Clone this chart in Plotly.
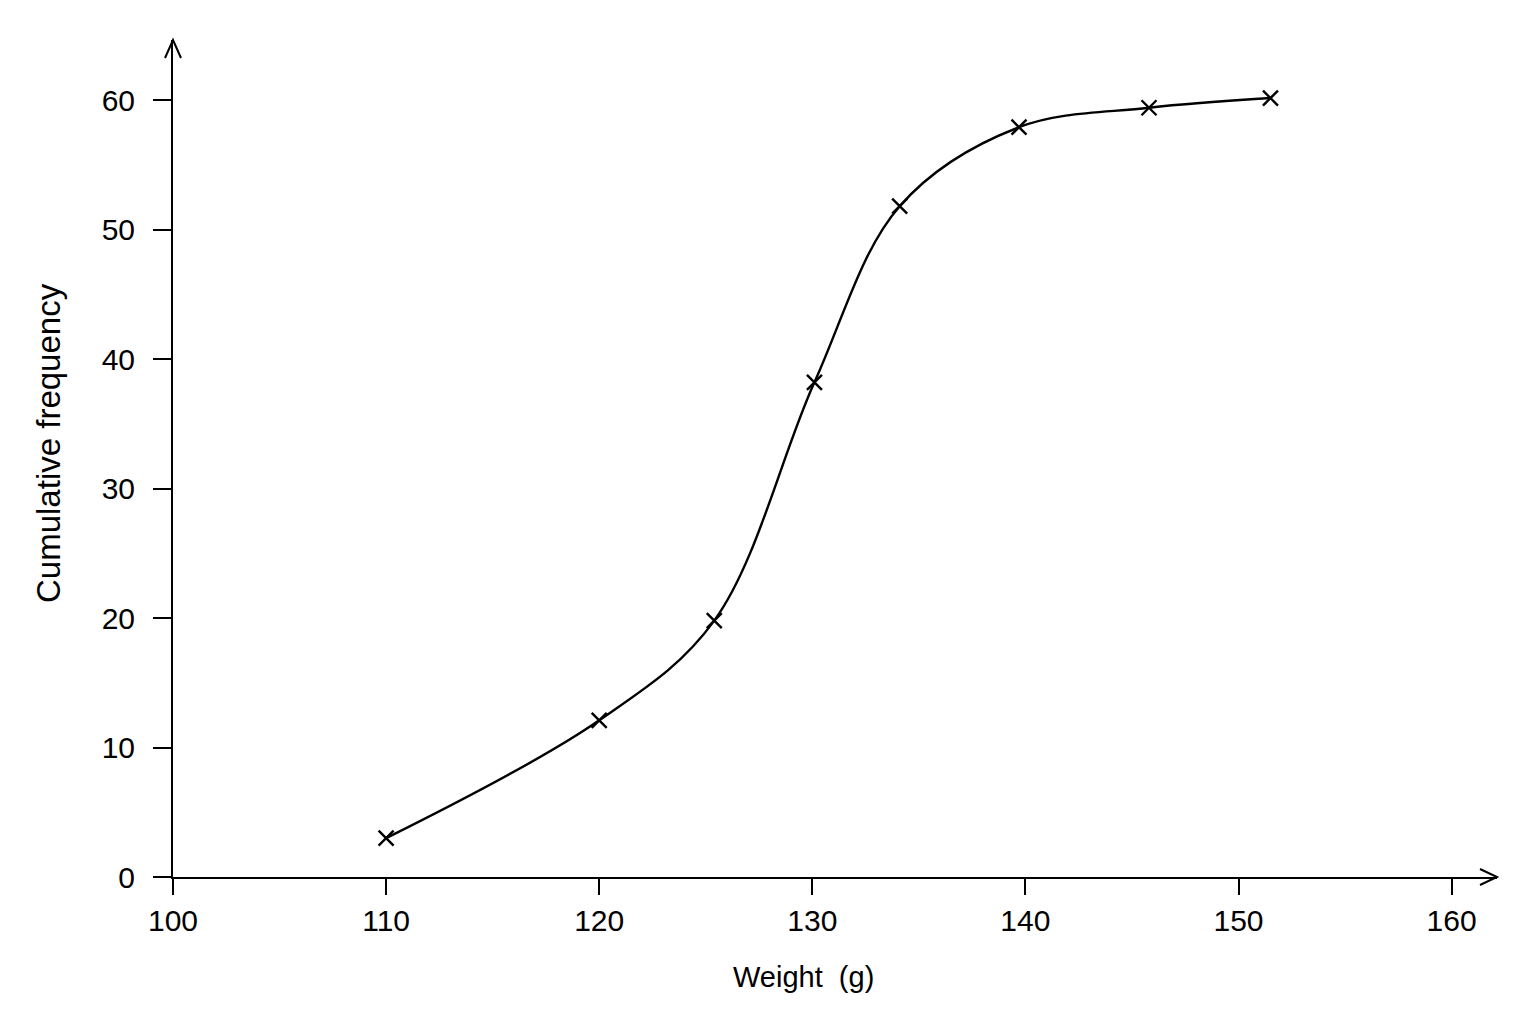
import plotly.graph_objects as go

# cumulative frequency data
weight = [110, 120, 125.4, 130.1, 134.1, 139.7, 145.8, 151.5]
cum_freq = [3.0, 12.1, 19.8, 38.2, 51.8, 57.9, 59.4, 60.15]

x_ticks = [100, 110, 120, 130, 140, 150, 160]
y_ticks = [0, 10, 20, 30, 40, 50, 60]

# page body has an 8px margin, so the figure is drawn 8px in from the corner
OFF = 8
W, H = 1536 - 2 * OFF, 1024 - 2 * OFF
L, T = 173 - OFF, 40 - OFF
R, B = W - (1497 - OFF), H - (877 - OFF)
pw, ph = W - L - R, H - T - B

fig = go.Figure()
fig.add_trace(go.Scatter(
    x=weight,
    y=cum_freq,
    mode='lines+markers',
    line=dict(color='black', width=2.4, shape='spline', smoothing=1.0),
    marker=dict(symbol='x-thin', size=15, line=dict(color='black', width=2.4)),
    showlegend=False,
    hoverinfo='x+y'
))

family = 'Liberation Sans, Arial, sans-serif'
tick_font = dict(family=family, size=30, color='black')

fig.update_xaxes(
    range=[100, 100 + pw / 21.31],
    tickvals=x_ticks,
    showline=True, linecolor='black', linewidth=2,
    ticks='outside', ticklen=16, tickwidth=2, tickcolor='black',
    showgrid=False, zeroline=False,
    tickfont=tick_font, ticklabelstandoff=0
)
fig.update_yaxes(
    range=[0, ph / 12.95],
    tickvals=y_ticks,
    showline=True, linecolor='black', linewidth=2,
    ticks='outside', ticklen=18, tickwidth=2, tickcolor='black',
    showgrid=False, zeroline=False,
    tickfont=tick_font, ticklabelstandoff=12
)

# open chevron arrow heads at the axis ends
ax, ay = 8 / pw, 18 / ph
bx, by = 17 / pw, 8 / ph
fig.add_shape(type='path', xref='paper', yref='paper',
              path=f'M {-ax},{1 - ay} L 0,1 L {ax},{1 - ay}',
              line=dict(color='black', width=2))
fig.add_shape(type='path', xref='paper', yref='paper',
              path=f'M {1 - bx},{by} L 1,0 L {1 - bx},{-by}',
              line=dict(color='black', width=2))

fig.add_annotation(text='Weight  (g)', xref='paper', yref='paper',
                   x=(803 - 173) / pw, y=(877 - 977) / ph,
                   showarrow=False, font=dict(family=family, size=29, color='black'),
                   xanchor='center', yanchor='middle')
fig.add_annotation(text='Cumulative frequency', xref='paper', yref='paper',
                   x=(48 - 173) / pw, y=(877 - 443) / ph, textangle=-90,
                   showarrow=False, font=dict(family=family, size=33, color='black'),
                   xanchor='center', yanchor='middle')

fig.update_layout(
    width=W, height=H,
    margin=dict(l=L, r=R, t=T, b=B),
    plot_bgcolor='white', paper_bgcolor='white',
)

fig.write_html('out.html')
